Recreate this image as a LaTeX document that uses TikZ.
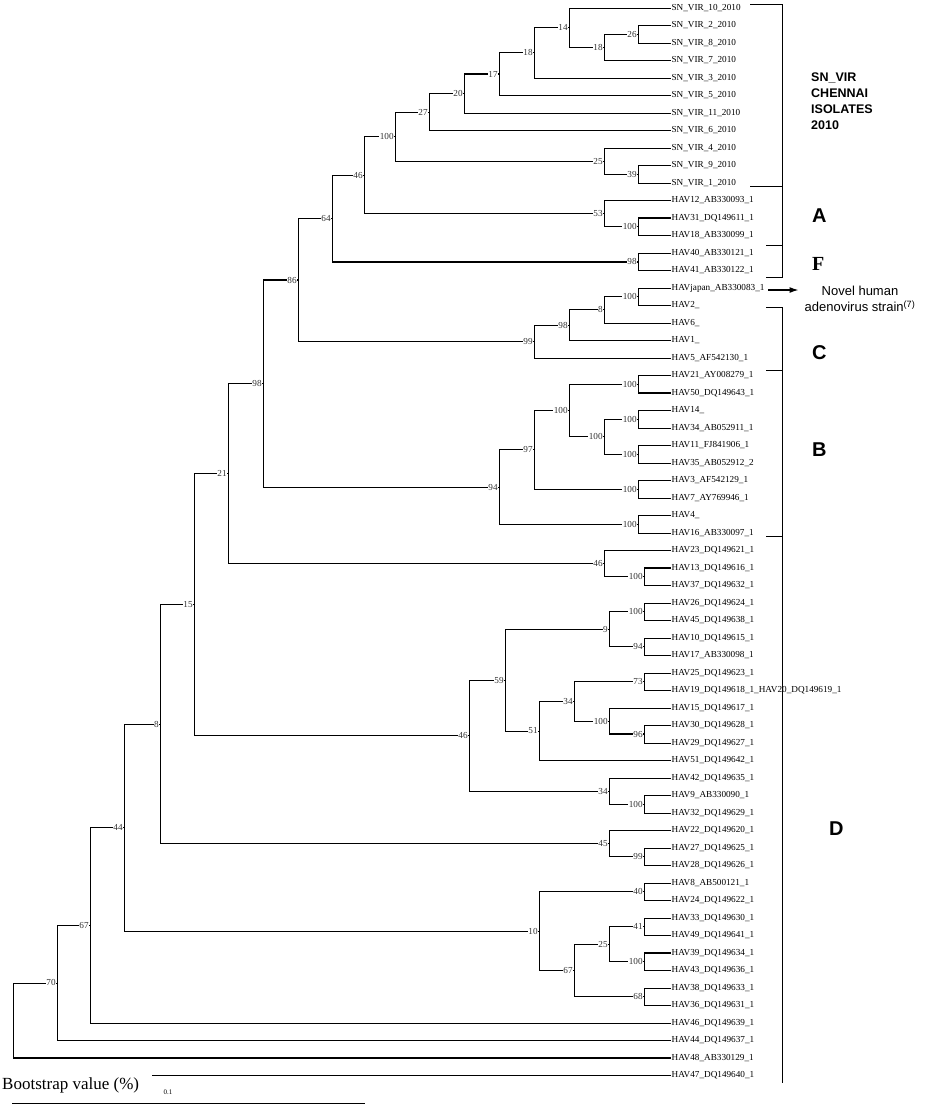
\documentclass[tikz,border=0pt]{standalone}
\usepackage{fontspec}
\setmainfont{Liberation Serif}
\newfontfamily\cladefont{Liberation Sans}
\usetikzlibrary{arrows.meta, positioning, calc}
\pgfdeclarelayer{background}
\pgfsetlayers{background,main}
\tikzset{
  leaf/.style = {anchor=west, inner sep=0.4pt, font=\fontsize{9.2}{10}\selectfont},
  boot/.style = {anchor=east, xshift=-0.7pt, inner sep=0.5pt, fill=white, text=black!80, font=\fontsize{9.2}{10}\selectfont},
  branch/.style = {line width=0.8pt},
  heavy/.style = {line width=1.6pt},
  clade/.style = {anchor=west, inner sep=0pt, font=\cladefont\bfseries\fontsize{20}{22}\selectfont}
}

\begin{document}
\begin{tikzpicture}[x=1pt,y=-1pt]
  \useasboundingbox (0,0) rectangle (926,1116);
  % leaves
  \node[leaf] (l1) at (671,8) {SN\_VIR\_10\_2010};
  \node[leaf] (l2) at (671,25.5) {SN\_VIR\_2\_2010};
  \node[leaf] (l3) at (671,43) {SN\_VIR\_8\_2010};
  \node[leaf] (l4) at (671,60.5) {SN\_VIR\_7\_2010};
  \node[leaf] (l5) at (671,78) {SN\_VIR\_3\_2010};
  \node[leaf] (l6) at (671,95.5) {SN\_VIR\_5\_2010};
  \node[leaf] (l7) at (671,113) {SN\_VIR\_11\_2010};
  \node[leaf] (l8) at (671,130.5) {SN\_VIR\_6\_2010};
  \node[leaf] (l9) at (671,148) {SN\_VIR\_4\_2010};
  \node[leaf] (l10) at (671,165.5) {SN\_VIR\_9\_2010};
  \node[leaf] (l11) at (671,183) {SN\_VIR\_1\_2010};
  \node[leaf] (l12) at (671,200.5) {HAV12\_AB330093\_1};
  \node[leaf] (l13) at (671,218) {HAV31\_DQ149611\_1};
  \node[leaf] (l14) at (671,235.5) {HAV18\_AB330099\_1};
  \node[leaf] (l15) at (671,253) {HAV40\_AB330121\_1};
  \node[leaf] (l16) at (671,270.5) {HAV41\_AB330122\_1};
  \node[leaf] (l17) at (671,288) {HAVjapan\_AB330083\_1};
  \node[leaf] (l18) at (671,305.5) {HAV2\_};
  \node[leaf] (l19) at (671,323) {HAV6\_};
  \node[leaf] (l20) at (671,340.5) {HAV1\_};
  \node[leaf] (l21) at (671,358) {HAV5\_AF542130\_1};
  \node[leaf] (l22) at (671,375.5) {HAV21\_AY008279\_1};
  \node[leaf] (l23) at (671,393) {HAV50\_DQ149643\_1};
  \node[leaf] (l24) at (671,410.5) {HAV14\_};
  \node[leaf] (l25) at (671,428) {HAV34\_AB052911\_1};
  \node[leaf] (l26) at (671,445.5) {HAV11\_FJ841906\_1};
  \node[leaf] (l27) at (671,463) {HAV35\_AB052912\_2};
  \node[leaf] (l28) at (671,480.5) {HAV3\_AF542129\_1};
  \node[leaf] (l29) at (671,498) {HAV7\_AY769946\_1};
  \node[leaf] (l30) at (671,515.5) {HAV4\_};
  \node[leaf] (l31) at (671,533) {HAV16\_AB330097\_1};
  \node[leaf] (l32) at (671,550.5) {HAV23\_DQ149621\_1};
  \node[leaf] (l33) at (671,568) {HAV13\_DQ149616\_1};
  \node[leaf] (l34) at (671,585.5) {HAV37\_DQ149632\_1};
  \node[leaf] (l35) at (671,603) {HAV26\_DQ149624\_1};
  \node[leaf] (l36) at (671,620.5) {HAV45\_DQ149638\_1};
  \node[leaf] (l37) at (671,638) {HAV10\_DQ149615\_1};
  \node[leaf] (l38) at (671,655.5) {HAV17\_AB330098\_1};
  \node[leaf] (l39) at (671,673) {HAV25\_DQ149623\_1};
  \node[leaf] (l40) at (671,690.5) {HAV19\_DQ149618\_1\_HAV20\_DQ149619\_1};
  \node[leaf] (l41) at (671,708) {HAV15\_DQ149617\_1};
  \node[leaf] (l42) at (671,725.5) {HAV30\_DQ149628\_1};
  \node[leaf] (l43) at (671,743) {HAV29\_DQ149627\_1};
  \node[leaf] (l44) at (671,760.5) {HAV51\_DQ149642\_1};
  \node[leaf] (l45) at (671,778) {HAV42\_DQ149635\_1};
  \node[leaf] (l46) at (671,795.5) {HAV9\_AB330090\_1};
  \node[leaf] (l47) at (671,813) {HAV32\_DQ149629\_1};
  \node[leaf] (l48) at (671,830.5) {HAV22\_DQ149620\_1};
  \node[leaf] (l49) at (671,848) {HAV27\_DQ149625\_1};
  \node[leaf] (l50) at (671,865.5) {HAV28\_DQ149626\_1};
  \node[leaf] (l51) at (671,883) {HAV8\_AB500121\_1};
  \node[leaf] (l52) at (671,900.5) {HAV24\_DQ149622\_1};
  \node[leaf] (l53) at (671,918) {HAV33\_DQ149630\_1};
  \node[leaf] (l54) at (671,935.5) {HAV49\_DQ149641\_1};
  \node[leaf] (l55) at (671,953) {HAV39\_DQ149634\_1};
  \node[leaf] (l56) at (671,970.5) {HAV43\_DQ149636\_1};
  \node[leaf] (l57) at (671,988) {HAV38\_DQ149633\_1};
  \node[leaf] (l58) at (671,1005.5) {HAV36\_DQ149631\_1};
  \node[leaf] (l59) at (671,1023) {HAV46\_DQ149639\_1};
  \node[leaf] (l60) at (671,1040.5) {HAV44\_DQ149637\_1};
  \node[leaf] (l61) at (671,1058) {HAV48\_AB330129\_1};
  \node[leaf] (l62) at (671,1075.5) {HAV47\_DQ149640\_1};

  % inner nodes with bootstrap values
  \path (569,27.69) coordinate (n14) node[boot] (b14) {14};
  \path (604,47.38) coordinate (n18b) node[boot] (b18b) {18};
  \path (638,34.25) coordinate (n26) node[boot] (b26) {26};
  \path (534,52.84) coordinate (n18a) node[boot] (b18a) {18};
  \path (499,74.17) coordinate (n17) node[boot] (b17) {17};
  \path (464,93.59) coordinate (n20) node[boot] (b20) {20};
  \path (429,112.04) coordinate (n27) node[boot] (b27) {27};
  \path (395,136.58) coordinate (n100a) node[boot] (b100a) {100};
  \path (604,161.13) coordinate (n25) node[boot] (b25) {25};
  \path (638,174.25) coordinate (n39) node[boot] (b39) {39};
  \path (364,175.1) coordinate (n46a) node[boot] (b46a) {46};
  \path (604,213.63) coordinate (n53) node[boot] (b53) {53};
  \path (638,226.75) coordinate (n100b) node[boot] (b100b) {100};
  \path (332,218.43) coordinate (n64) node[boot] (b64) {64};
  \path (638,261.75) coordinate (n98a) node[boot] (b98a) {98};
  \path (298,280) coordinate (n86) node[boot] (b86) {86};
  \path (638,296.75) coordinate (n100c) node[boot] (b100c) {100};
  \path (604,309.88) coordinate (n8a) node[boot] (b8a) {8};
  \path (569,325.19) coordinate (n98c) node[boot] (b98c) {98};
  \path (534,341.6) coordinate (n99) node[boot] (b99) {99};
  \path (263,383.53) coordinate (n98b) node[boot] (b98b) {98};
  \path (638,384.25) coordinate (n100e) node[boot] (b100e) {100};
  \path (569,410.5) coordinate (n100d) node[boot] (b100d) {100};
  \path (638,419.25) coordinate (n100h) node[boot] (b100h) {100};
  \path (604,436.75) coordinate (n100g) node[boot] (b100g) {100};
  \path (638,454.25) coordinate (n100i) node[boot] (b100i) {100};
  \path (534,449.88) coordinate (n97) node[boot] (b97) {97};
  \path (638,489.25) coordinate (n100j) node[boot] (b100j) {100};
  \path (499,487.06) coordinate (n94) node[boot] (b94) {94};
  \path (638,524.25) coordinate (n100f) node[boot] (b100f) {100};
  \path (228,473.58) coordinate (n21) node[boot] (b21) {21};
  \path (604,563.63) coordinate (n46b) node[boot] (b46b) {46};
  \path (644,576.75) coordinate (n100k) node[boot] (b100k) {100};
  \path (194,604.6) coordinate (n15) node[boot] (b15) {15};
  \path (644,611.75) coordinate (n100l) node[boot] (b100l) {100};
  \path (609,629.25) coordinate (n9) node[boot] (b9) {9};
  \path (644,646.75) coordinate (n94b) node[boot] (b94b) {94};
  \path (505,680.11) coordinate (n59) node[boot] (b59) {59};
  \path (644,681.75) coordinate (n73) node[boot] (b73) {73};
  \path (574,701.44) coordinate (n34a) node[boot] (b34a) {34};
  \path (609,721.13) coordinate (n100m) node[boot] (b100m) {100};
  \path (539,730.97) coordinate (n51) node[boot] (b51) {51};
  \path (644,734.25) coordinate (n96) node[boot] (b96) {96};
  \path (469,735.62) coordinate (n46c) node[boot] (b46c) {46};
  \path (609,791.13) coordinate (n34b) node[boot] (b34b) {34};
  \path (644,804.25) coordinate (n100n) node[boot] (b100n) {100};
  \path (160,724.1) coordinate (n8b) node[boot] (b8b) {8};
  \path (609,843.63) coordinate (n45) node[boot] (b45) {45};
  \path (644,856.75) coordinate (n99b) node[boot] (b99b) {99};
  \path (124,827.6) coordinate (n44) node[boot] (b44) {44};
  \path (644,891.75) coordinate (n40) node[boot] (b40) {40};
  \path (644,926.75) coordinate (n41) node[boot] (b41) {41};
  \path (539,931.13) coordinate (n10) node[boot] (b10) {10};
  \path (609,944.25) coordinate (n25b) node[boot] (b25b) {25};
  \path (644,961.75) coordinate (n100o) node[boot] (b100o) {100};
  \path (574,970.5) coordinate (n67b) node[boot] (b67b) {67};
  \path (644,996.75) coordinate (n68) node[boot] (b68) {68};
  \path (90,925.3) coordinate (n67a) node[boot] (b67a) {67};
  \path (57,982.9) coordinate (n70) node[boot] (b70) {70};
  \coordinate (root) at (13,1020.45);
  \coordinate (h47) at (152,1075.5);

  \begin{pgfonlayer}{background}
  \draw[branch] (n26) |- (l2.west) (n26) |- (l3.west);
  \draw[branch] (n18b) |- (n26) (n18b) |- (l4.west);
  \draw[branch] (n14) |- (l1.west) (n14) |- (n18b);
  \draw[branch] (n18a) |- (n14) (n18a) |- (l5.west);
  \draw[branch] (n17) |- (n18a) (n17) |- (l6.west);
  \draw[branch] (n20) |- (n17) (n20) |- (l7.west);
  \draw[branch] (n27) |- (n20) (n27) |- (l8.west);
  \draw[branch] (n39) |- (l10.west) (n39) |- (l11.west);
  \draw[branch] (n25) |- (l9.west) (n25) |- (n39);
  \draw[branch] (n100a) |- (n27) (n100a) |- (n25);
  \draw[branch] (n100b) |- (l13.west) (n100b) |- (l14.west);
  \draw[branch] (n53) |- (l12.west) (n53) |- (n100b);
  \draw[branch] (n46a) |- (n100a) (n46a) |- (n53);
  \draw[branch] (n98a) |- (l15.west) (n98a) |- (l16.west);
  \draw[branch] (n64) |- (n46a) (n64) |- (n98a);
  \draw[branch] (n100c) |- (l17.west) (n100c) |- (l18.west);
  \draw[branch] (n8a) |- (n100c) (n8a) |- (l19.west);
  \draw[branch] (n98c) |- (n8a) (n98c) |- (l20.west);
  \draw[branch] (n99) |- (n98c) (n99) |- (l21.west);
  \draw[branch] (n86) |- (n64) (n86) |- (n99);
  \draw[branch] (n100e) |- (l22.west) (n100e) |- (l23.west);
  \draw[branch] (n100h) |- (l24.west) (n100h) |- (l25.west);
  \draw[branch] (n100i) |- (l26.west) (n100i) |- (l27.west);
  \draw[branch] (n100g) |- (n100h) (n100g) |- (n100i);
  \draw[branch] (n100d) |- (n100e) (n100d) |- (n100g);
  \draw[branch] (n100j) |- (l28.west) (n100j) |- (l29.west);
  \draw[branch] (n97) |- (n100d) (n97) |- (n100j);
  \draw[branch] (n100f) |- (l30.west) (n100f) |- (l31.west);
  \draw[branch] (n94) |- (n97) (n94) |- (n100f);
  \draw[branch] (n98b) |- (n86) (n98b) |- (n94);
  \draw[branch] (n100k) |- (l33.west) (n100k) |- (l34.west);
  \draw[branch] (n46b) |- (l32.west) (n46b) |- (n100k);
  \draw[branch] (n21) |- (n98b) (n21) |- (n46b);
  \draw[branch] (n100l) |- (l35.west) (n100l) |- (l36.west);
  \draw[branch] (n94b) |- (l37.west) (n94b) |- (l38.west);
  \draw[branch] (n9) |- (n100l) (n9) |- (n94b);
  \draw[branch] (n73) |- (l39.west) (n73) |- (l40.west);
  \draw[branch] (n96) |- (l42.west) (n96) |- (l43.west);
  \draw[branch] (n100m) |- (l41.west) (n100m) |- (n96);
  \draw[branch] (n34a) |- (n73) (n34a) |- (n100m);
  \draw[branch] (n51) |- (n34a) (n51) |- (l44.west);
  \draw[branch] (n59) |- (n9) (n59) |- (n51);
  \draw[branch] (n100n) |- (l46.west) (n100n) |- (l47.west);
  \draw[branch] (n34b) |- (l45.west) (n34b) |- (n100n);
  \draw[branch] (n46c) |- (n59) (n46c) |- (n34b);
  \draw[branch] (n15) |- (n21) (n15) |- (n46c);
  \draw[branch] (n99b) |- (l49.west) (n99b) |- (l50.west);
  \draw[branch] (n45) |- (l48.west) (n45) |- (n99b);
  \draw[branch] (n8b) |- (n15) (n8b) |- (n45);
  \draw[branch] (n40) |- (l51.west) (n40) |- (l52.west);
  \draw[branch] (n41) |- (l53.west) (n41) |- (l54.west);
  \draw[branch] (n100o) |- (l55.west) (n100o) |- (l56.west);
  \draw[branch] (n25b) |- (n41) (n25b) |- (n100o);
  \draw[branch] (n68) |- (l57.west) (n68) |- (l58.west);
  \draw[branch] (n67b) |- (n25b) (n67b) |- (n68);
  \draw[branch] (n10) |- (n40) (n10) |- (n67b);
  \draw[branch] (n44) |- (n8b) (n44) |- (n10);
  \draw[branch] (n67a) |- (n44) (n67a) |- (l59.west);
  \draw[branch] (n70) |- (n67a) (n70) |- (l60.west);
  \draw[branch] (root) |- (n70) (root) |- (l61.west);
  \draw[branch] (h47) -- (l62.west);
  % heavier strokes
  \draw[heavy] (n26 |- l2) -- (l2.west);
  \draw[heavy] (n20 |- n17) -- (n17);
  \draw[heavy] (n64 |- n98a) -- (n98a);
  \draw[heavy] (n86 |- n64) -- (n64);
  \draw[heavy] (n98b |- n86) -- (n86);
  \draw[heavy] (n53 |- l12) -- (l12.west);
  \draw[heavy] (n100b |- l13) -- (l13.west);
  \draw[heavy] (n100e |- l23) -- (l23.west);
  \draw[heavy] (n100k |- l33) -- (l33.west);
  \draw[heavy] (n100k |- l34) -- (l34.west);
  \draw[heavy] (n51 |- l44) -- (l44.west);
  \draw[heavy] (n100m |- n96) -- (n96);
  \draw[heavy] (n99b |- l50) -- (l50.west);
  \draw[heavy] (n41 |- l54) -- (l54.west);
  \draw[heavy] (n100o |- l55) -- (l55.west);
  \draw[heavy] (n70 |- l60) -- (l60.west);
  \draw[heavy] (root |- l61) -- (l61.west);
  \end{pgfonlayer}

  % group brackets
  \draw[branch] (750,4) -- (782,4) -- (782,277) -- (766,277);
  \draw[branch] (750,186) -- (782,186);
  \draw[branch] (766,245) -- (782,245);
  \draw[branch] (766,307) -- (782,307) -- (782,1083);
  \draw[branch] (766,370) -- (782,370);
  \draw[branch] (766,536) -- (782,536);

  \node[anchor=west, align=left, inner sep=0pt, font=\cladefont\bfseries\fontsize{12.5}{16}\selectfont] (snvir) at (811,101) {SN\_VIR\\CHENNAI\\ISOLATES\\2010};
  \node[clade] (cA) at (812,216) {A};
  \node[clade, font=\bfseries\fontsize{20}{22}\selectfont] (cF) at (812,264) {F};
  \node[clade] (cC) at (812,353) {C};
  \node[clade] (cB) at (812,450) {B};
  \node[clade] (cD) at (829,829) {D};

  \node[align=center, inner sep=0pt, font=\cladefont\fontsize{13}{15.5}\selectfont] (novel) at (860,299) {Novel human\\adenovirus strain\textsuperscript{(7)}};
  \draw[-{Latex[length=9pt,width=6pt]}, line width=1.2pt] ([xshift=3pt,yshift=-2pt]l17.east) -- ([xshift=-6pt,yshift=-2pt]novel.west |- l17.east);

  % scale
  \node[anchor=west, inner sep=0pt, font=\fontsize{17}{19}\selectfont] (bootnote) at (2,1085) {Bootstrap value (\%)};
  \coordinate (sbl) at (12,1103);
  \coordinate (sbr) at (365,1103);
  \draw[branch] (sbl) -- (sbr);
  \node[font=\fontsize{7}{8}\selectfont, inner sep=0pt] (sbtxt) at (168,1092) {0.1};
\end{tikzpicture}
\end{document}
